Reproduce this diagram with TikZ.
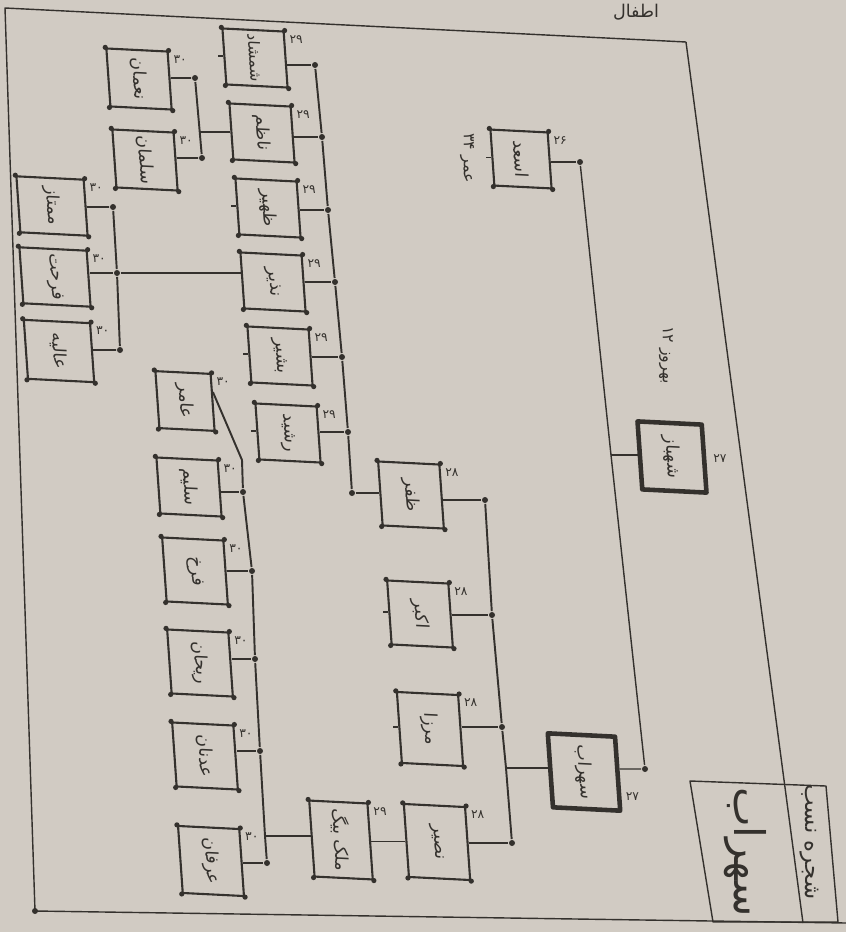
\documentclass[tikz,border=0pt]{standalone}
\usepackage{fontspec}
\usepackage{graphicx}
\usepackage{xcolor}
\usepackage{tikz}
\newfontfamily\urdu[Script=Arabic]{DejaVu Sans}
\TeXXeTstate=1
\definecolor{paper}{RGB}{209,203,195}
\definecolor{ink}{RGB}{52,49,45}
\newcommand{\nam}[1]{\rotatebox{-90}{\urdu\beginR #1\endR}}
\newcommand{\gnum}[1]{{\urdu #1}}

\tikzset{
  person/.style={draw=ink, line width=1.2pt, minimum width=12.2mm, minimum height=12.8mm,
    xslant=-0.07, yslant=-0.05, font=\normalsize},
  short/.style={minimum height=11.2mm},
  elder/.style={person, line width=2.6pt},
  junc/.style={circle, fill=ink, minimum size=1.2mm},
  gen/.style={label={[font=\scriptsize, anchor=north west, xshift=0.8mm, yshift=-0.8mm]north east:\gnum{#1}}}
}

\begin{document}
\begin{tikzpicture}
	[x=0.2mm, y=-0.2mm, color=ink, line width=1.1pt, line join=round, every node/.style={inner sep=0pt}]
	\useasboundingbox (0,0) rectangle (846,932);
	\fill[paper] (0,0) rectangle (846,932);

	% frame and title box
	\draw[line width=0.8pt] (686,42) -- (5,8) -- (35,911) -- (846,923);
	\draw[line width=0.8pt] (686,42) -- (803,923);
	\draw[line width=0.8pt] (690,781) -- (826,786) -- (838,922) -- (713,922) -- cycle;
	\node[junc] (corner) at (35,911) {};
	\node (title) at (745,852) {\rotatebox{-90}{\urdu\fontsize{24}{26}\selectfont\beginR سهراب\endR}};
	\node (tree) at (809,842) {\rotatebox{-90}{\urdu\fontsize{13}{15}\selectfont\beginR شجره نسب\endR}};
	\node (atfal) at (636,12) {\urdu\beginR اطفال\endR};

	% elders
	\node[elder, minimum width=13.4mm, minimum height=14.8mm,
		label={[font=\scriptsize, anchor=west, xshift=1mm, yshift=-4.5mm]east:\gnum{۲۷}}] (sohrab) at (584,772) {\nam{سهراب}};
	\node[elder, minimum width=12.8mm, minimum height=13.6mm,
		label={[font=\scriptsize, anchor=west, xshift=1.2mm]east:\gnum{۲۷}}] (shahbaz) at (672,457) {\nam{شهباز}};
	\node[person, short, minimum width=11.4mm, gen=۲۶] (asad) at (521,159) {\nam{اسعد}};
	\node (asadnote) at (467,158) {\rotatebox{-90}{\small\urdu\beginR عمر ۳۴\endR}};
	\node (note) at (666,355) {\rotatebox{-90}{\small\urdu\beginR بهروز ۱۲\endR}};

	\node[junc] (r1) at (645,769) {};
	\node[junc] (rt) at (580,162) {};
	\coordinate (rs) at (611,455);
	\draw[line width=0.8pt] (sohrab.east |- r1) -- (r1) -- (rs) -- (rt);
	\draw (asad.east |- rt) -- (rt);
	\draw (rs) -- (rs -| shahbaz.west);

	% children of sohrab
	\node[person, gen=۲۸] (zafar) at (411,495) {\nam{ظفر}};
	\node[person, gen=۲۸] (akbar) at (420,614) {\nam{اکبر}};
	\node[person, minimum height=14.2mm, gen=۲۸] (mirza) at (430,729) {\nam{مرزا}};
	\node[person, minimum height=14.6mm, gen=۲۸] (naseer) at (437,842) {\nam{نصیر}};
	\node[junc] (b1) at (485,500) {};
	\node[junc] (b2) at (492,615) {};
	\node[junc] (b3) at (502,727) {};
	\node[junc] (b4) at (512,843) {};
	\coordinate (bm) at (506,768);
	\draw (b1) -- (b2) -- (b3) -- (bm) -- (b4);
	\draw (bm) -- (bm -| sohrab.west);
	\draw (zafar.east |- b1) -- (b1);
	\draw (akbar.east |- b2) -- (b2);
	\draw (mirza.east |- b3) -- (b3);
	\draw (naseer.east |- b4) -- (b4);

	% children of zafar
	\node[person, short, font=\small, gen=۲۹] (shamshad) at (255,58) {\nam{شمشاد}};
	\node[person, short, gen=۲۹] (nazim) at (262,133) {\nam{ناظم}};
	\node[person, short, gen=۲۹] (zaheer) at (268,208) {\nam{ظهیر}};
	\node[person, short, gen=۲۹] (nazir) at (273,282) {\nam{نذیر}};
	\node[person, short, gen=۲۹] (bashir) at (280,356) {\nam{بشیر}};
	\node[person, short, gen=۲۹] (rashid) at (288,433) {\nam{رشید}};
	\node[junc] (a1) at (315,65) {};
	\node[junc] (a2) at (322,137) {};
	\node[junc] (a3) at (328,210) {};
	\node[junc] (a4) at (335,282) {};
	\node[junc] (a5) at (342,357) {};
	\node[junc] (a6) at (348,432) {};
	\node[junc] (a7) at (352,493) {};
	\draw (a1) -- (a2) -- (a3) -- (a4) -- (a5) -- (a6) -- (a7);
	\draw (a7) -- (a7 -| zafar.west);
	\draw (shamshad.east |- a1) -- (a1);
	\draw (nazim.east |- a2) -- (a2);
	\draw (zaheer.east |- a3) -- (a3);
	\draw (nazir.east |- a4) -- (a4);
	\draw (bashir.east |- a5) -- (a5);
	\draw (rashid.east |- a6) -- (a6);

	% children of nazim
	\node[person, short, minimum height=11.6mm, gen=۳۰] (nauman) at (139,79) {\nam{نعمان}};
	\node[person, short, minimum height=11.6mm, gen=۳۰] (salman) at (145,160) {\nam{سلمان}};
	\node[junc] (d1) at (195,78) {};
	\node[junc] (d2) at (202,158) {};
	\coordinate (dm) at (200,132);
	\draw (nauman.east |- d1) -- (d1) -- (d2) -- (d2 -| salman.east);
	\draw (dm) -- (dm -| nazim.west);

	% children of nazir
	\node[person, short, minimum width=13.4mm, gen=۳۰] (mumtaz) at (52,206) {\nam{ممتاز}};
	\node[person, short, minimum width=13.4mm, gen=۳۰] (farhat) at (55,277) {\nam{فرحت}};
	\node[person, short, minimum width=13.2mm, minimum height=11.8mm, gen=۳۰] (alia) at (59,351) {\nam{عالیه}};
	\node[junc] (e1) at (113,207) {};
	\node[junc] (e2) at (117,273) {};
	\node[junc] (e3) at (120,350) {};
	\draw (mumtaz.east |- e1) -- (e1) -- (e2) -- (e3) -- (e3 -| alia.east);
	\draw (farhat.east |- e2) -- (e2) -- (e2 -| nazir.west);

	% son of naseer and his children
	\node[person, minimum width=11.6mm, minimum height=15.2mm, gen=۲۹] (malik) at (341,840) {\nam{ملک بیگ}};
	\draw (malik.east) -- (malik.east -| naseer.west);
	\node[person, minimum height=13.4mm, gen=۳۰] (irfan) at (211,861) {\nam{عرفان}};
	\node[person, gen=۳۰] (adnan) at (205,756) {\nam{عدنان}};
	\node[person, gen=۳۰] (rehan) at (200,663) {\nam{ریحان}};
	\node[person, gen=۳۰] (farrukh) at (195,571) {\nam{فرخ}};
	\node[person, short, gen=۳۰] (salim) at (189,487) {\nam{سلیم}};
	\node[person, short, minimum width=11mm, minimum height=11.4mm, gen=۳۰] (amir) at (185,401) {\nam{عامر}};
	\coordinate (f0) at (242,460);
	\node[junc] (f5) at (243,492) {};
	\node[junc] (f4) at (252,571) {};
	\node[junc] (f3) at (255,659) {};
	\node[junc] (f2) at (260,751) {};
	\coordinate (fm) at (265,836);
	\node[junc] (f1) at (267,863) {};
	\draw (amir.20) -- (f0) -- (f5) -- (f4) -- (f3) -- (f2) -- (fm) -- (f1);
	\draw (fm) -- (fm -| malik.west);
	\draw (salim.east |- f5) -- (f5);
	\draw (farrukh.east |- f4) -- (f4);
	\draw (rehan.east |- f3) -- (f3);
	\draw (adnan.east |- f2) -- (f2);
	\draw (irfan.east |- f1) -- (f1);

	% corner dots and side stubs
	\foreach \p in {asad,zafar,akbar,mirza,naseer,malik,shamshad,nazim,zaheer,nazir,bashir,rashid,nauman,salman,mumtaz,farhat,alia,irfan,adnan,rehan,farrukh,salim,amir}
		\foreach \c in {north west,north east,south west,south east}
			\fill (\p.\c) circle (2.6);
	\foreach \p in {asad,shamshad,zaheer,bashir,rashid,akbar,mirza}
		\draw (\p.west) -- ++(-5,0);
\end{tikzpicture}
\end{document}
